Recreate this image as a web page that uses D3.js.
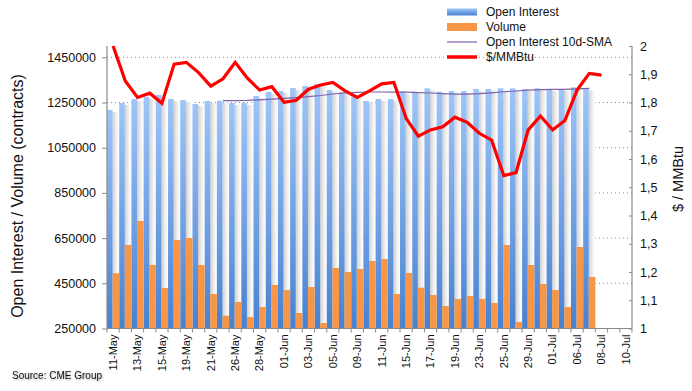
<!DOCTYPE html>
<html><head><meta charset="utf-8">
<script src="https://cdn.jsdelivr.net/npm/d3@7"></script>
<style>
html,body{margin:0;padding:0;background:#fff;}
svg{display:block;font-family:"Liberation Sans",Arial,sans-serif;}
</style></head>
<body>
<svg id="chart" width="692" height="391"></svg>
<script>
const categories = ["11-May","12-May","13-May","14-May","15-May","18-May","19-May","20-May","21-May","22-May",
"26-May","27-May","28-May","29-May","01-Jun","02-Jun","03-Jun","04-Jun","05-Jun","08-Jun",
"09-Jun","10-Jun","11-Jun","12-Jun","15-Jun","16-Jun","17-Jun","18-Jun","19-Jun","22-Jun",
"23-Jun","24-Jun","25-Jun","26-Jun","29-Jun","30-Jun","01-Jul","02-Jul","06-Jul","07-Jul",
"08-Jul","09-Jul","10-Jul"];
const openInterest = [1217000,1248000,1265500,1275700,1283200,1265500,1261000,1243400,1256600,1258000,
1247800,1247800,1278800,1296500,1300900,1314200,1323000,1331900,1305300,1296500,
1275700,1256600,1265500,1265500,1297800,1297800,1312800,1297800,1300900,1300900,
1309700,1309700,1312800,1312800,1309700,1312800,1309700,1309700,1317300,1312800];
const volume = [494000,619500,725700,531000,429200,641600,650500,531000,402700,306600,
367300,300900,345100,442500,420400,318600,433600,274300,517700,500000,
513300,548700,557500,402700,495600,430500,398200,349600,380500,393800,
380500,362800,619500,278800,531000,446900,420400,345100,610600,477900];
const oiSMA = [null,null,null,null,null,null,null,null,null,1258000,
1258500,1259500,1262000,1265000,1268500,1272000,1275700,1281000,1287600,1292000,
1295000,1296500,1296500,1296000,1295500,1294000,1292000,1289000,1287000,1287000,
1289000,1293000,1297500,1301000,1305000,1307000,1308300,1308500,1310500,1312800];
const price = [2.0,1.876,1.818,1.833,1.797,1.936,1.942,1.906,1.858,1.884,
1.942,1.886,1.844,1.856,1.801,1.808,1.847,1.862,1.871,1.841,
1.818,1.841,1.866,1.871,1.744,1.681,1.703,1.714,1.748,1.730,
1.691,1.667,1.541,1.552,1.703,1.752,1.703,1.736,1.844,1.903,1.897];
const leftTicks = [250000,450000,650000,850000,1050000,1250000,1450000];
const rightTicks = [1,1.1,1.2,1.3,1.4,1.5,1.6,1.7,1.8,1.9,2];
const legendItems = ["Open Interest","Volume","Open Interest 10d-SMA","$/MMBtu"];

const svg = d3.select("#chart");
const L = 107, R = 632, T = 46, B = 328.5;
const x = d3.scaleBand().domain(categories).range([L, R]).padding(0);
const yL = d3.scaleLinear().domain([250000, 1500000]).range([B, T]);
const yR = d3.scaleLinear().domain([1, 2]).range([B, T]);
const bw = x.bandwidth();
const blueW = bw * 0.46;

const defs = svg.append("defs");
const gb = defs.append("linearGradient").attr("id","gBlue").attr("x1",0).attr("y1",0).attr("x2",0).attr("y2",1);
gb.append("stop").attr("offset","0%").attr("stop-color","#9fc5f8");
gb.append("stop").attr("offset","100%").attr("stop-color","#4781d2");
const gs = defs.append("linearGradient").attr("id","gShadow").attr("x1",0).attr("y1",0).attr("x2",1).attr("y2",0);
gs.append("stop").attr("offset","0%").attr("stop-color","#cfcfcf");
gs.append("stop").attr("offset","60%").attr("stop-color","#f2f2f2");
gs.append("stop").attr("offset","100%").attr("stop-color","#ffffff");
const flt = defs.append("filter").attr("id","txtShadow").attr("x","-10%").attr("y","-30%").attr("width","130%").attr("height","180%");
flt.append("feDropShadow").attr("dx",1).attr("dy",1).attr("stdDeviation",1).attr("flood-color","#000").attr("flood-opacity",0.35);

// gridlines
svg.append("g").selectAll("line").data(leftTicks.filter(d => d > 250000)).join("line")
  .attr("x1", L).attr("x2", R).attr("y1", d => yL(d)).attr("y2", d => yL(d))
  .attr("stroke", "#8c8c8c").attr("stroke-width", 1).attr("stroke-dasharray", "1,3");

// shadows behind open interest bars
svg.append("g").selectAll("rect").data(openInterest).join("rect")
  .attr("x", (d,i) => x(categories[i]) + blueW)
  .attr("y", d => yL(d) + 2)
  .attr("width", bw - blueW)
  .attr("height", d => B - yL(d) - 2)
  .attr("fill", "url(#gShadow)");

// open interest bars
svg.append("g").selectAll("rect").data(openInterest).join("rect")
  .attr("x", (d,i) => x(categories[i]))
  .attr("y", d => yL(d))
  .attr("width", blueW)
  .attr("height", d => B - yL(d))
  .attr("fill", "url(#gBlue)");

// volume bars
svg.append("g").selectAll("rect").data(volume).join("rect")
  .attr("x", (d,i) => x(categories[i]) + blueW)
  .attr("y", d => yL(d))
  .attr("width", bw - blueW)
  .attr("height", d => B - yL(d))
  .attr("fill", "#f79646");

// SMA line
const smaLine = d3.line().defined(d => d[1] != null)
  .x(d => x(categories[d[0]]) + bw/2).y(d => yL(d[1]));
svg.append("path").datum(oiSMA.map((v,i) => [i, v]))
  .attr("d", smaLine).attr("fill","none").attr("stroke","#7f62a8").attr("stroke-width",1.2);

// price line
const pLine = d3.line().x((d,i) => x(categories[i]) + bw/2).y(d => yR(d));
svg.append("path").datum(price).attr("d", pLine)
  .attr("fill","none").attr("stroke","#ff0000").attr("stroke-width",3.2).attr("stroke-linejoin","miter");

// axes
const axisColor = "#8a8a8a";
const gL = svg.append("g").attr("transform", `translate(${L},0)`)
  .call(d3.axisLeft(yL).tickValues(leftTicks).tickSize(5).tickPadding(6).tickFormat(d3.format("d")));
const gR = svg.append("g").attr("transform", `translate(${R},0)`)
  .call(d3.axisRight(yR).tickValues(rightTicks).tickSize(-3).tickPadding(8).tickFormat(d => String(+d.toFixed(1)).replace(".", ",")));
const gX = svg.append("g").attr("transform", `translate(0,${B})`)
  .call(d3.axisBottom(x).tickSize(0).tickFormat((d,i) => i % 2 === 0 ? d : ""));
[gL, gR, gX].forEach(g => {
  g.select(".domain").attr("stroke", axisColor).attr("stroke-width", 1.2);
  g.selectAll(".tick line").attr("stroke", axisColor);
  g.selectAll("text").attr("fill", "#111").attr("font-size", 12.5).attr("font-family", "Liberation Sans, Arial, sans-serif");
});
gL.select(".domain").attr("d", `M0,${T}V${B}`);
gR.select(".domain").attr("d", `M0,${T}V${B}`);
gX.select(".domain").attr("d", `M${L},0H${R}`);
// x tick marks at band boundaries
gX.append("g").selectAll("line").data(d3.range(categories.length + 1)).join("line")
  .attr("x1", i => L + i * bw).attr("x2", i => L + i * bw).attr("y1", 0).attr("y2", 4)
  .attr("stroke", axisColor);
gX.selectAll(".tick text")
  .attr("font-size", 11)
  .attr("transform", "rotate(-90)")
  .attr("text-anchor", "end")
  .attr("x", -6).attr("y", 0).attr("dy", "0.35em");

// axis titles
svg.append("text").attr("transform", "translate(23,196) rotate(-90)")
  .attr("text-anchor","middle").attr("font-size",16).attr("fill","#111")
  .text("Open Interest / Volume (contracts)");
svg.append("text").attr("transform", "translate(683,179) rotate(-90)")
  .attr("text-anchor","middle").attr("font-size",14.5).attr("fill","#111")
  .text("$ / MMBtu");

// legend
const lg = svg.append("g");
const ly = [12, 27, 42, 57];
lg.append("rect").attr("x",447).attr("y",ly[0]-3.5).attr("width",30).attr("height",7).attr("fill","url(#gBlue)");
lg.append("rect").attr("x",447).attr("y",ly[1]-4).attr("width",30).attr("height",8).attr("fill","#f79646");
lg.append("line").attr("x1",447).attr("x2",477).attr("y1",ly[2]).attr("y2",ly[2]).attr("stroke","#7f62a8").attr("stroke-width",1.2);
lg.append("line").attr("x1",447).attr("x2",477).attr("y1",ly[3]).attr("y2",ly[3]).attr("stroke","#ff0000").attr("stroke-width",3.5);
lg.selectAll("text").data(legendItems).join("text")
  .attr("x",486).attr("y",(d,i) => ly[i]).attr("dy","0.35em")
  .attr("font-size",12).attr("fill","#111").text(d => d);

// source
svg.append("text").attr("x",12).attr("y",379).attr("font-size",10).attr("fill","#111")
  .attr("filter","url(#txtShadow)").text("Source: CME Group");
</script>
</body></html>
